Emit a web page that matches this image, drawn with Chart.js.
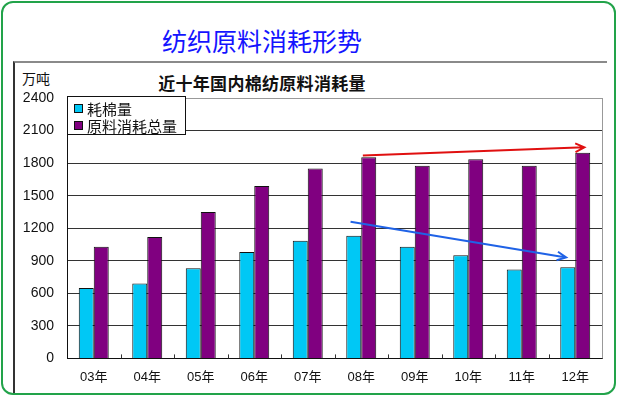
<!DOCTYPE html>
<html>
<head>
<meta charset="utf-8">
<script src="https://cdn.jsdelivr.net/npm/chart.js@4.4.1/dist/chart.umd.min.js"></script>
<style>
  html, body { margin: 0; padding: 0; background: #fff; }
  body { width: 618px; height: 398px; position: relative; overflow: hidden; font-family: "Noto Sans CJK SC", sans-serif; }
  .outer { position: absolute; left: 1px; top: 1px; width: 611px; height: 390px; border: 2.5px solid #22a34a; border-radius: 12px; }
  .frame { position: absolute; left: 13px; top: 61px; width: 592px; height: 330px; border-left: 2px solid #333; border-top: 2px solid #8a8a8a; }
  .main-title { position: absolute; left: 0; width: 524px; top: 21px; text-align: center; font-size: 25px; line-height: 38px; color: #1414ff; }
  .chart-title { position: absolute; left: 0; width: 524px; top: 71px; text-align: center; font-size: 17px; line-height: 24px; font-weight: bold; letter-spacing: 0.3px; color: #111; }
  .unit { position: absolute; left: 22px; top: 68px; font-size: 14px; line-height: 20px; color: #111; }
  #wrap { position: absolute; left: 0; top: 62px; width: 618px; height: 336px; }
  .legend { position: absolute; left: 67px; top: 96px; width: 117px; height: 37px; border: 1px solid #111; background: #fff; }
  .legend div { position: absolute; left: 19px; font-size: 15px; line-height: 17px; color: #111; white-space: nowrap; }
  .legend span { position: absolute; left: -13px; top: 4px; width: 7px; height: 7px; border: 1px solid #111; }
</style>
</head>
<body>
<div class="outer"></div>
<div class="frame"></div>
<div class="main-title">纺织原料消耗形势</div>
<div class="chart-title">近十年国内棉纺原料消耗量</div>
<div class="unit">万吨</div>
<div id="wrap"><canvas id="myChart" width="618" height="336"></canvas></div>
<div class="legend" id="legend"></div>

<script>
// chart data
const years = ["03年", "04年", "05年", "06年", "07年", "08年", "09年", "10年", "11年", "12年"];
const cottonUse = [650, 690, 830, 980, 1085, 1130, 1030, 950, 820, 840];
const totalUse = [1030, 1120, 1350, 1590, 1750, 1855, 1775, 1835, 1775, 1895];
const seriesNames = ["耗棉量", "原料消耗总量"];
const seriesColors = ["#00c8f5", "#800080"];
const yMax = 2400;
const yStep = 300;

// hand drawn trend arrows: [category index, value]
const redArrow = [[5.03, 1870], [9.17, 1945]];
const blueArrow = [[4.8, 1260], [8.83, 930]];

// legend box (html)
const legendBox = document.getElementById("legend");
seriesNames.forEach(function (name, i) {
  const row = document.createElement("div");
  row.style.top = (i === 0 ? 3 : 20) + "px";
  row.innerHTML = '<span style="background:' + seriesColors[i] + '"></span>' + name;
  legendBox.appendChild(row);
});

// frame of plot area, x tick marks and arrows
const decorPlugin = {
  id: "decor",
  afterDatasetsDraw(chart) {
    const ctx = chart.ctx;
    const area = chart.chartArea;
    const x = chart.scales.x;
    const y = chart.scales.y;
    ctx.save();
    ctx.strokeStyle = "#999";
    ctx.lineWidth = 1;
    ctx.beginPath();
    ctx.moveTo(Math.round(area.right) + 0.5, area.top);
    ctx.lineTo(Math.round(area.right) + 0.5, area.bottom);
    ctx.stroke();

    ctx.strokeStyle = "#333";
    for (let i = 1; i < years.length; i++) {
      const px = Math.round(x.getPixelForValue(i - 0.5)) + 0.5;
      ctx.beginPath();
      ctx.moveTo(px, area.bottom);
      ctx.lineTo(px, area.bottom - 4);
      ctx.stroke();
    }

    function arrow(pts, color) {
      const x1 = x.getPixelForValue(pts[0][0]);
      const y1 = y.getPixelForValue(pts[0][1]);
      const x2 = x.getPixelForValue(pts[1][0]);
      const y2 = y.getPixelForValue(pts[1][1]);
      const a = Math.atan2(y2 - y1, x2 - x1);
      ctx.strokeStyle = color;
      ctx.lineWidth = 2;
      ctx.beginPath();
      ctx.moveTo(x1, y1);
      ctx.lineTo(x2, y2);
      ctx.moveTo(x2 - 10 * Math.cos(a - 0.45), y2 - 10 * Math.sin(a - 0.45));
      ctx.lineTo(x2, y2);
      ctx.lineTo(x2 - 10 * Math.cos(a + 0.45), y2 - 10 * Math.sin(a + 0.45));
      ctx.stroke();
    }
    arrow(redArrow, "#e01010");
    arrow(blueArrow, "#1f62e6");
    ctx.restore();
  },
};

var ctx = document.getElementById("myChart").getContext("2d");
var myChart = new Chart(ctx, {
  type: "bar",
  data: {
    labels: years,
    datasets: [
      {
        label: seriesNames[0],
        data: cottonUse,
        backgroundColor: seriesColors[0],
        borderColor: "#111",
        borderWidth: 1,
      },
      {
        label: seriesNames[1],
        data: totalUse,
        backgroundColor: seriesColors[1],
        borderColor: "#111",
        borderWidth: 1,
      },
    ],
  },
  options: {
    responsive: false,
    animation: false,
    categoryPercentage: 0.56,
    barPercentage: 1.0,
    layout: {
      padding: { top: 36, right: 16, bottom: 2, left: 0 },
    },
    scales: {
      x: {
        grid: { display: false, drawTicks: false },
        border: { color: "#111", width: 1 },
        ticks: {
          color: "#111",
          padding: 11,
          font: { family: "'Liberation Sans', 'Noto Sans CJK SC'", size: 13 },
        },
      },
      y: {
        min: 0,
        max: yMax,
        afterFit: function (scale) {
          scale.width = 67;
        },
        grid: {
          drawTicks: false,
          color: function (c) {
            return c.tick && c.tick.value === yMax ? "#999" : "#333";
          },
        },
        border: { color: "#111", width: 1 },
        ticks: {
          stepSize: yStep,
          padding: 13,
          color: "#111",
          font: { family: "'Liberation Sans', Arial", size: 14 },
          callback: function (value) {
            return String(value);
          },
        },
      },
    },
    plugins: {
      legend: { display: false },
      tooltip: { enabled: false },
    },
  },
  plugins: [decorPlugin],
});
</script>
</body>
</html>
